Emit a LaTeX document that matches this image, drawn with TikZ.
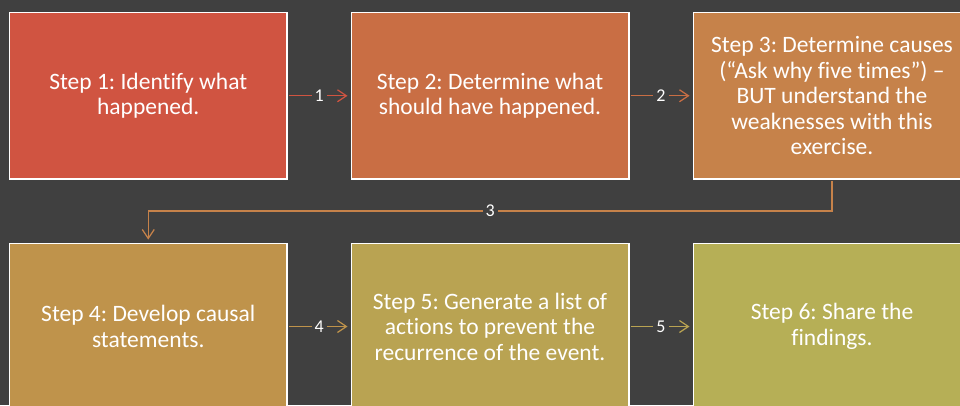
\documentclass[tikz,border=0pt]{standalone}
\usepackage{fontspec}
\setmainfont{Carlito}[Ligatures={NoCommon}]
\usetikzlibrary{arrows.meta}
\frenchspacing
\definecolor{bg}{HTML}{404040}
\definecolor{cA}{HTML}{D05441}
\definecolor{cB}{HTML}{C96E44}
\definecolor{cC}{HTML}{C6824A}
\definecolor{cD}{HTML}{BF934B}
\definecolor{cE}{HTML}{B9A352}
\definecolor{cF}{HTML}{B6AF56}
\tikzset{
  stepbox/.style={draw=white, line width=1.5pt, rectangle, minimum width=277.5pt, minimum height=166.5pt,
    text=white, align=center, inner sep=0pt, font=\fontsize{23.5}{25.5}\selectfont},
  conn/.style={draw=#1, line width=1.2pt, -{Straight Barb[length=9pt,width=12pt,line width=1.2pt]}, shorten >=3pt, shorten <=1pt},
  lbl/.style={fill=bg, text=white, inner xsep=3pt, inner ysep=1pt, font=\fontsize{18}{18}\selectfont}
}
\begin{document}
\begin{tikzpicture}[x=1pt,y=-1pt]
\useasboundingbox (0,0) rectangle (960,405);
\clip (0,0) rectangle (960,405);
\fill[bg] (0,0) rectangle (960,405);
\node[stepbox, fill=cA] (s1) at (148.25,95.75) {Step 1: Identify what\\happened.};
\node[stepbox, fill=cB] (s2) at (490,95.75) {Step 2: Determine what\\should have happened.};
\node[stepbox, fill=cC] (s3) at (832,95.75) {Step 3: Determine causes\\(“Ask why five times”) –\\BUT understand the\\weaknesses with this\\exercise.};
\node[stepbox, fill=cD] (s4) at (148.25,326.5) {Step 4: Develop causal\\statements.};
\node[stepbox, fill=cE] (s5) at (490,326.5) {Step 5: Generate a list of\\actions to prevent the\\recurrence of the event.};
\node[stepbox, fill=cF] (s6) at (832,326.5) {Step 6: Share the\\findings.};
\coordinate (m3) at (832,211);
\draw[conn=cA] (s1.east) -- node[lbl]{1} (s2.west);
\draw[conn=cB] (s2.east) -- node[lbl]{2} (s3.west);
\draw[conn=cC] (s3.south) -- (m3) -| node[lbl, pos=0.25]{3} (s4.north);
\draw[conn=cD] (s4.east) -- node[lbl]{4} (s5.west);
\draw[conn=cE] (s5.east) -- node[lbl]{5} (s6.west);
\end{tikzpicture}
\end{document}
